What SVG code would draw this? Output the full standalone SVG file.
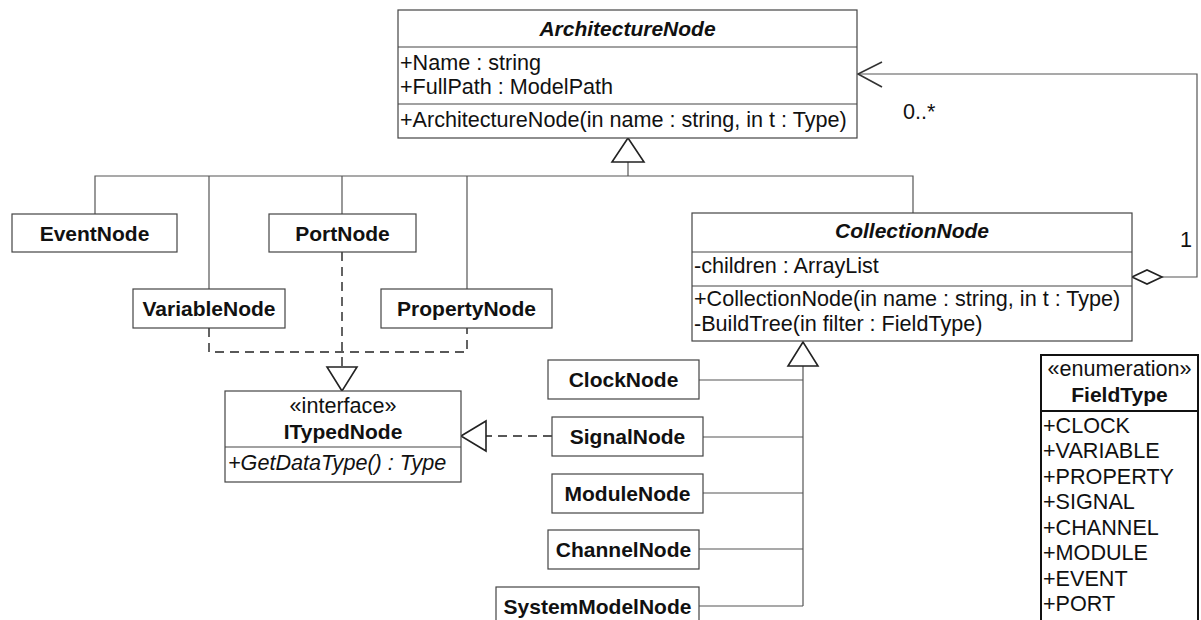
<svg xmlns="http://www.w3.org/2000/svg" width="1201" height="620" viewBox="0 0 1201 620">
  <style>
    text { font-family: "Liberation Sans", Arial, sans-serif; font-size: 21.6px; fill: #111; }
    .b { font-weight: bold; font-size: 21px; }
    .bi { font-weight: bold; font-style: italic; font-size: 21px; }
    .i { font-style: italic; }
    .c { text-anchor: middle; }
    .box { fill: #fff; stroke: #444; stroke-width: 1.2; }
    .sep { stroke: #444; stroke-width: 1.2; }
    .enum { fill: #fff; stroke: #111; stroke-width: 2; }
    .line { fill: none; stroke: #555; stroke-width: 1.2; }
    .dash { fill: none; stroke: #222; stroke-width: 1.4; stroke-dasharray: 9 6; }
    .head { fill: #fff; stroke: #222; stroke-width: 1.6; }
    .open { fill: none; stroke: #333; stroke-width: 1.6; }
  </style>

  <rect width="1201" height="620" fill="#fff"/>

  <!-- connectors -->
  <g id="connectors">
    <!-- generalization to ArchitectureNode -->
    <path class="line" d="M95,214 V176 H913 V213 M209,289 V176 M342,214 V176 M467,289 V176 M628,176 V162"/>
    <polygon class="head" points="628,138 612,162 644,162"/>

    <!-- realization of ITypedNode by Variable/Port/Property -->
    <path class="dash" d="M209,328 V352 H467 V328 M342,252 V367"/>
    <polygon class="head" points="342,391 327,367 357,367"/>

    <!-- realization of ITypedNode by SignalNode -->
    <path class="dash" d="M552,436 H486"/>
    <polygon class="head" points="461,436 486,421 486,451"/>

    <!-- generalization to CollectionNode -->
    <path class="line" d="M803,366 V606 M699,380 H803 M703,437 H803 M703,493 H803 M699,549 H803 M699,606 H803"/>
    <polygon class="head" points="803,342 788,366 818,366"/>

    <!-- aggregation: CollectionNode holds children -->
    <path class="line" d="M1162,277 H1197 V74 H858"/>
    <polyline class="open" points="882,62 858,74 882,87"/>
    <polygon class="head" points="1132,277 1147,270 1162,277 1147,284"/>
    <text x="903" y="119">0..*</text>
    <text x="1180" y="247">1</text>
  </g>

  <g id="ArchitectureNode">
    <rect class="box" x="398" y="10" width="459" height="128"/>
    <line class="sep" x1="398" y1="47" x2="857" y2="47"/>
    <line class="sep" x1="398" y1="104" x2="857" y2="104"/>
    <text class="bi c" x="627.5" y="36">ArchitectureNode</text>
    <text x="400" y="70">+Name : string</text>
    <text x="400" y="94">+FullPath : ModelPath</text>
    <text x="400" y="127">+ArchitectureNode(in name : string, in t : Type)</text>
  </g>

  <g id="EventNode">
    <rect class="box" x="12" y="214" width="165" height="38"/>
    <text class="b c" x="94.5" y="240.5">EventNode</text>
  </g>

  <g id="PortNode">
    <rect class="box" x="269" y="214" width="147" height="38"/>
    <text class="b c" x="342.5" y="240.5">PortNode</text>
  </g>

  <g id="VariableNode">
    <rect class="box" x="133" y="289" width="152" height="39"/>
    <text class="b c" x="209" y="316">VariableNode</text>
  </g>

  <g id="PropertyNode">
    <rect class="box" x="381" y="289" width="171" height="39"/>
    <text class="b c" x="466.5" y="316">PropertyNode</text>
  </g>

  <g id="ITypedNode">
    <rect class="box" x="225" y="391" width="236" height="91"/>
    <line class="sep" x1="225" y1="447" x2="461" y2="447"/>
    <text class="c" x="343" y="413">«interface»</text>
    <text class="b c" x="343" y="439">ITypedNode</text>
    <text class="i" x="228" y="470">+GetDataType() : Type</text>
  </g>

  <g id="CollectionNode">
    <rect class="box" x="692" y="213" width="440" height="128"/>
    <line class="sep" x1="692" y1="252" x2="1132" y2="252"/>
    <line class="sep" x1="692" y1="286" x2="1132" y2="286"/>
    <text class="bi c" x="912" y="238">CollectionNode</text>
    <text x="694" y="273">-children : ArrayList</text>
    <text x="694" y="306">+CollectionNode(in name : string, in t : Type)</text>
    <text x="694" y="331">-BuildTree(in filter : FieldType)</text>
  </g>

  <g id="ClockNode">
    <rect class="box" x="548" y="360" width="151" height="39"/>
    <text class="b c" x="623.5" y="387">ClockNode</text>
  </g>

  <g id="SignalNode">
    <rect class="box" x="552" y="417" width="151" height="39"/>
    <text class="b c" x="627.5" y="444">SignalNode</text>
  </g>

  <g id="ModuleNode">
    <rect class="box" x="552" y="474" width="151" height="39"/>
    <text class="b c" x="627.5" y="501">ModuleNode</text>
  </g>

  <g id="ChannelNode">
    <rect class="box" x="548" y="530" width="151" height="39"/>
    <text class="b c" x="623.5" y="557">ChannelNode</text>
  </g>

  <g id="SystemModelNode">
    <rect class="box" x="496" y="587" width="203" height="40"/>
    <text class="b c" x="597.5" y="614">SystemModelNode</text>
  </g>

  <g id="FieldType">
    <rect class="enum" x="1041" y="355" width="157" height="280"/>
    <line class="enum" x1="1041" y1="411" x2="1198" y2="411"/>
    <text class="c" x="1119.5" y="376">«enumeration»</text>
    <text class="b c" x="1119.5" y="402">FieldType</text>
    <text x="1043" y="433">+CLOCK</text>
    <text x="1043" y="458">+VARIABLE</text>
    <text x="1043" y="484">+PROPERTY</text>
    <text x="1043" y="509">+SIGNAL</text>
    <text x="1043" y="535">+CHANNEL</text>
    <text x="1043" y="560">+MODULE</text>
    <text x="1043" y="586">+EVENT</text>
    <text x="1043" y="611">+PORT</text>
  </g>
</svg>
